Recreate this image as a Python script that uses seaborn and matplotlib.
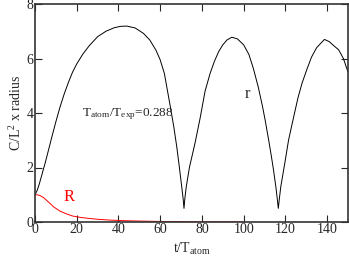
import numpy as np
import pandas as pd
import matplotlib
matplotlib.use("Agg")
import matplotlib.pyplot as plt
import seaborn as sns

# r curve (black)
t_r = [0, 1, 2, 3, 4, 5, 6, 8, 10, 12, 14, 16, 18, 20, 23, 26, 30, 34, 38, 41, 44,
       48, 52, 55, 58, 60, 62, 64.7, 66.5, 67.9, 69.2, 70.3, 71.0, 71.4,
       71.8, 72.5, 74, 76.7, 79.1, 81.5, 83.9, 86, 88, 90, 92, 94.3, 97, 100,
       102.5, 104.7, 107, 109, 110.3, 112, 113.3, 114.3, 115.5, 116.1, 116.6,
       117.1, 117.8, 118.8, 119.8, 121.5, 123.8, 126, 128, 130.2, 132.5, 135, 138.7,
       141, 143.5, 145.5, 147.8, 150]
r_vals = [1.0, 1.15, 1.38, 1.65, 1.93, 2.2, 2.5, 3.1, 3.68, 4.22, 4.7, 5.12, 5.5, 5.8, 6.17, 6.47,
          6.8, 7.0, 7.13, 7.18, 7.19,
          7.12, 6.92, 6.68, 6.3, 5.95, 5.45, 4.3, 3.5, 2.78, 2.0, 1.3, 0.85, 0.5,
          0.85, 1.3, 2.0, 2.9, 3.8, 4.8, 5.45, 5.9, 6.25, 6.5, 6.68, 6.78, 6.72, 6.5,
          6.15, 5.62, 4.95, 4.25, 3.74, 3.0, 2.4, 1.91, 1.25, 0.85, 0.5,
          0.85, 1.3, 1.75, 2.2, 3.0, 3.8, 4.55, 5.1, 5.58, 6.05, 6.4, 6.7,
          6.62, 6.45, 6.32, 6.0, 5.5]

# R curve (red)
t_R = [0, 1, 2.4, 4, 5.5, 7.2, 9, 12, 15, 18, 21.6, 26, 30, 36, 42, 50, 60, 70, 80, 90, 100]
R_vals = [1.0, 1.0, 0.97, 0.9, 0.8, 0.68, 0.55, 0.4, 0.3, 0.22, 0.17, 0.13, 0.1, 0.07, 0.05, 0.035,
          0.02, 0.012, 0.007, 0.004, 0.002]

x_ticks = [0, 20, 40, 60, 80, 100, 120, 140]
y_ticks = [0, 2, 4, 6, 8]

sns.set_style("ticks")
plt.rcParams['font.family'] = ['Liberation Serif', 'DejaVu Serif']
plt.rcParams['mathtext.fontset'] = 'custom'
plt.rcParams['mathtext.rm'] = 'Liberation Serif'
plt.rcParams['mathtext.it'] = 'Liberation Serif'

df_r = pd.DataFrame({"t": t_r, "v": r_vals})
df_R = pd.DataFrame({"t": t_R, "v": R_vals})

fig = plt.figure(figsize=(3.49, 2.57), dpi=100)
ax = fig.add_axes([35/349, 1 - 222/257, (348-35)/349, (222-4)/257])

sns.lineplot(data=df_r, x="t", y="v", ax=ax, color="black", linewidth=0.7, sort=False)
sns.lineplot(data=df_R, x="t", y="v", ax=ax, color="red", linewidth=0.7, sort=False)

ax.set_xlim(0, 150)
ax.set_ylim(0, 8)
ax.set_xticks(x_ticks)
ax.set_yticks(y_ticks)
ax.tick_params(direction="in", top=True, right=True, length=5, width=0.8,
               labelsize=10, pad=1, labeltop=False, labelright=False)
for s in ax.spines.values():
    s.set_linewidth(1.2)
    s.set_color("#333333")

ax.set_xlabel(r"t/T$_{\mathregular{atom}}$", fontsize=10, labelpad=3)
ax.set_ylabel(r"C/L$^{\mathregular{2}}$ x radius", fontsize=10, labelpad=2)

ax.text(22.4, 3.87, r"T$_{\mathregular{atom}}$/T$_{\mathregular{exp}}$=0.288", fontsize=9.5)
ax.text(101.6, 4.7, "r", fontsize=12, ha="center", va="center")
ax.text(16.3, 0.9, "R", fontsize=12, color="red", ha="center", va="center")

fig.savefig("out.png", dpi=100)
